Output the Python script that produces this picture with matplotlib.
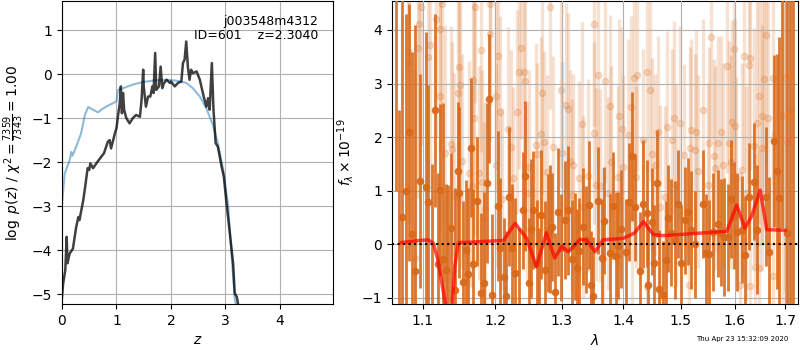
import numpy as np
import matplotlib
matplotlib.use('Agg')
import matplotlib.pyplot as plt
from matplotlib.ticker import NullLocator

# ---- p(z) panel ----
z_fit = [0.0, 0.05, 0.14, 0.17, 0.19, 0.26, 0.35, 0.42, 0.48, 0.57, 0.66, 0.72, 0.81, 0.94, 1.0,
         1.03, 1.12, 1.3, 1.49, 1.73, 1.92, 2.1, 2.28, 2.4, 2.53, 2.65, 2.77, 2.86, 2.96, 3.05,
         3.11, 3.17, 3.2]
lnp_fit = [-2.95, -2.26, -1.96, -1.77, -1.86, -1.65, -1.35, -0.93, -0.75, -0.81, -0.87, -0.81, -0.74,
           -0.66, -0.62, -0.36, -0.32, -0.24, -0.18, -0.14, -0.13, -0.15, -0.2, -0.32, -0.51, -0.78,
           -1.16, -1.57, -2.18, -3.0, -4.07, -5.1, -5.3]

z_chi = [0.0, 0.02, 0.06, 0.086, 0.1, 0.14, 0.2, 0.26, 0.3, 0.32, 0.39, 0.43, 0.47, 0.5, 0.52, 0.57,
         0.63, 0.72, 0.77, 0.8, 0.84, 0.875, 0.9, 0.94, 0.97, 1.0, 1.03, 1.06, 1.08, 1.1, 1.12, 1.14,
         1.18, 1.24, 1.3, 1.36, 1.43, 1.46, 1.49, 1.5, 1.54, 1.58, 1.62, 1.66, 1.68, 1.71, 1.73, 1.78,
         1.81, 1.84, 1.87, 1.92, 1.98, 2.0, 2.07, 2.13, 2.19, 2.22, 2.25, 2.28, 2.31, 2.34, 2.37, 2.4,
         2.47, 2.53, 2.6, 2.65, 2.68, 2.71, 2.75, 2.78, 2.82, 2.86, 2.93, 2.97, 3.02, 3.08, 3.14, 3.17,
         3.21, 3.23]
lnp_chi = [-5.07, -4.77, -4.46, -3.7, -4.3, -4.08, -3.97, -3.48, -3.25, -3.32, -2.87, -2.52, -2.14,
           -2.18, -2.03, -2.14, -2.03, -1.88, -1.8, -1.69, -1.54, -1.5, -1.69, -1.5, -1.35, -1.23, -0.93,
           -0.66, -0.28, -0.89, -0.43, -0.81, -1.0, -1.12, -1.0, -0.93, -0.97, -0.59, 0.1, -0.28, -0.74,
           -0.51, -0.51, -0.28, -0.43, 0.48, -0.36, -0.28, 0.17, -0.32, -0.21, -0.13, -0.2, -0.17, -0.28,
           -0.2, -0.17, 0.25, 0.33, 0.74, 0.17, -0.13, 0.1, 0.02, 0.06, -0.13, -0.51, -0.74, -0.55, -0.81,
           0.25, -0.81, -1.57, -1.65, -2.11, -2.33, -2.94, -3.62, -4.3, -4.98, -5.07, -5.22]

# ---- spectrum panel ----
wave_main = [1.0649, 1.0694, 1.0734, 1.0775, 1.0820, 1.0856, 1.0896, 1.0960, 1.1036, 1.1074, 1.1116,
             1.1158, 1.1200, 1.1232, 1.1270, 1.1307, 1.1340, 1.1382, 1.1433, 1.1469, 1.1493, 1.1539,
             1.1587, 1.1619, 1.1661, 1.1689, 1.1735, 1.1791, 1.1846, 1.1888, 1.1916, 1.1958, 1.2040,
             1.2074, 1.2125, 1.2163, 1.2203, 1.2243, 1.2282, 1.2352, 1.2401, 1.2441, 1.2490, 1.2534,
             1.2564, 1.2614, 1.2649, 1.2682, 1.2733, 1.2782, 1.2822, 1.2846, 1.2890, 1.2941, 1.2990,
             1.3043, 1.3103, 1.3157, 1.3207, 1.3239, 1.3272, 1.3333, 1.3387, 1.3426, 1.3469, 1.3497,
             1.3585, 1.3649, 1.3682, 1.3780, 1.3825, 1.3869, 1.3912, 1.3961, 1.4045, 1.4092, 1.4150,
             1.4202, 1.4279, 1.4337, 1.4394, 1.4424, 1.4489, 1.4529, 1.4569, 1.4616, 1.4674, 1.4726,
             1.4768, 1.4831, 1.4890, 1.4953, 1.5005, 1.5067, 1.5122, 1.5187, 1.5255, 1.5405, 1.5460,
             1.5522, 1.5582, 1.5685, 1.5745, 1.5805, 1.5867, 1.5933, 1.5995, 1.6054, 1.6140, 1.6206,
             1.6274, 1.6380, 1.6446, 1.6606, 1.6666, 1.6766, 1.6834, 1.6886, 1.6940, 1.7048, 1.7104,
             1.7166]
flux_main = [4.8, -1.5, 0.5, 1.0, 2.09, 0.19, -0.5, 1.18, 1.07, 0.78, -1.3,
             2.5, -0.37, 1.01, -0.27, -0.48, -1.4, 0.3, -0.85, 1.36, 0.96, -0.70,
             -0.11, -0.56, 1.8, -0.37, 0.80, -0.92, -0.72, 1.14, 2.72, -0.94, 0.71,
             -0.07, -0.62, -0.96, 0.89, -0.07, -0.54, -1.3, 0.63, 1.28, -0.72, 0.29,
             0.64, -0.37, -1.2, 0.55, -0.49, 0.21, 0.28, 0.32, -0.89, 0.60, -0.07,
             0.45, 0.63, -0.27, -0.04, -0.44, -0.13, 0.33, 0.08, 0.73, -0.76, -0.96,
             0.81, -0.26, 0.44, -0.17, 0.72, -0.22, -0.03, 0.28, -0.15, 0.78, 1.64,
             0.69, -0.50, 0.75, 0.58, -0.76, 0.42, -0.36, 1.14, -0.84, -0.94, -0.29,
             0.48, 0.21, 0.08, 0.75, -0.36, 0.45, 0.61, 0.27, 0.00, 0.75, -0.17,
             -0.18, 0.23, 0.38, 0.21, 0.13, 0.13, 0.84, 0.53, 0.22, 0.27, -0.20,
             0.89, 1.17, 0.27, 0.89, -0.15, 1.93, 1.36, 0.87, 4.8, 0.21, -1.5,
             -1.6]
err_main = [3.8, 4.0, 4.2, 3.3, 2.4, 3.4, 4.6, 2.0, 2.9, 2.2, 2.8,
            1.8, 1.7, 1.6, 2.9, 1.6, 2.5, 1.4, 1.9, 1.3, 1.6, 1.5,
            1.3, 1.6, 1.3, 1.4, 1.2, 1.5, 1.7, 1.5, 1.2, 1.5, 1.4,
            1.3, 1.1, 1.2, 1.3, 1.2, 1.4, 1.6, 1.1, 1.4, 1.2, 1.3,
            1.1, 1.2, 1.5, 1.2, 1.3, 1.1, 1.2, 1.0, 1.1, 1.2, 1.0,
            1.1, 1.2, 1.1, 1.0, 1.1, 1.0, 1.1, 1.0, 1.2, 1.0, 1.1,
            1.0, 1.1, 1.0, 1.1, 1.0, 1.2, 1.0, 1.1, 1.0, 1.1, 1.2,
            1.0, 1.1, 1.2, 1.0, 1.1, 1.0, 1.1, 1.0, 1.1, 1.0, 1.1,
            1.0, 1.0, 1.1, 1.0, 1.1, 1.0, 1.0, 1.1, 1.0, 1.0, 1.1,
            1.0, 1.1, 1.0, 1.0, 1.1, 1.0, 1.1, 1.0, 1.1, 1.0, 1.1,
            1.0, 1.1, 1.2, 1.3, 1.4, 1.6, 2.2, 3.0, 4.5, 4.5, 6.5,
            6.5]

wave_faint = [1.0802, 1.0819, 1.0900, 1.0937, 1.0946, 1.0981, 1.1074, 1.1092, 1.1176, 1.1223, 1.1232,
              1.1260, 1.1302, 1.1385, 1.1399, 1.1423, 1.1469, 1.1489, 1.1496, 1.1525, 1.1633, 1.1665,
              1.1679, 1.1698, 1.1716, 1.1772, 1.1791, 1.1811, 1.1838, 1.1852, 1.1922, 1.1930, 1.2015,
              1.2018, 1.2045, 1.2065, 1.2104, 1.2184, 1.2223, 1.2263, 1.2322, 1.2352, 1.2371, 1.2421,
              1.2436, 1.2460, 1.2499, 1.2599, 1.2619, 1.2682, 1.2697, 1.2722, 1.2766, 1.2816, 1.2856,
              1.2993, 1.3005, 1.3059, 1.3092, 1.3131, 1.3157, 1.3169, 1.3279, 1.3321, 1.3333, 1.3408,
              1.3508, 1.3518, 1.3551, 1.3574, 1.3607, 1.3661, 1.3693, 1.3738, 1.3780, 1.3797, 1.3912,
              1.3923, 1.3980, 1.3989, 1.4075, 1.4127, 1.4150, 1.4175, 1.4220, 1.4232, 1.4337, 1.4394,
              1.4407, 1.4454, 1.4482, 1.4546, 1.4594, 1.4629, 1.4716, 1.4756, 1.4848, 1.4884, 1.4908,
              1.4988, 1.5049, 1.5145, 1.5158, 1.5187, 1.5249, 1.5267, 1.5304, 1.5400, 1.5491, 1.5509,
              1.5551, 1.5605, 1.5631, 1.5678, 1.5740, 1.5787, 1.5860, 1.5885, 1.5933, 1.5945, 1.5982,
              1.6006, 1.6034, 1.6100, 1.6140, 1.6180, 1.6220, 1.6274, 1.6300, 1.6306, 1.6380, 1.6406,
              1.6434, 1.6474, 1.6486, 1.6526, 1.6540, 1.6566, 1.6620, 1.6646, 1.6754, 1.6760, 1.6950,
              1.7000, 1.7050, 1.7120]
flux_faint = [3.41, 3.59, -0.25, 3.66, 4.12, 4.43, 3.50, 3.71, 4.21, 2.77, 4.02,
              4.49, 1.70, 1.87, 1.78, 0.90, 2.82, 3.31, 2.97, 1.55, 1.32, 1.08,
              3.07, 2.36, 4.43, 1.33, 3.63, 1.16, 0.49, 0.65, 4.49, 3.93, 2.77,
              1.47, 3.52, 2.47, 0.84, 2.15, 1.82, 1.23, 2.47, 3.21, 3.66, 3.21,
              3.04, 0.95, 1.45, 1.85, 1.68, 2.06, 2.83, 1.91, 1.35, 4.43, 1.82,
              2.87, 1.70, 2.60, 2.52, 1.56, 0.92, 1.47, 1.24, 2.25, 0.70, 1.28,
              2.07, 4.11, 1.11, 3.15, 1.09, -0.28, 3.04, 0.95, 2.58, 1.53, 1.25,
              2.40, 2.15, 1.45, 2.03, 2.56, 0.52, 3.11, 1.26, 3.16, 1.94, 3.22,
              -0.80, 2.88, 1.68, 1.47, 2.09, 0.70, 0.88, 2.19, 1.95, 2.36, 1.10,
              2.27, 1.67, -0.76, 1.79, 2.14, 1.76, 2.10, 1.36, 2.51, 1.11, 1.89,
              3.87, 1.65, 1.42, 1.89, 2.09, 1.48, 3.33, 1.89, 1.54, 2.29, 3.64,
              2.20, 1.23, -0.76, 1.39, 3.52, 0.95, 3.35, 3.48, -0.79, 1.84, -0.42,
              2.27, -0.45, 2.77, 1.80, 2.39, 3.08, 3.91, 2.36, 3.10, -0.59, 2.4,
              3.1, 1.9, 2.5]
err_faint = [3.0, 3.2, 3.5, 2.8, 3.0, 2.6, 2.4, 2.7, 2.2, 2.5, 2.3,
             2.1, 2.4, 2.2, 2.0, 2.3, 2.1, 1.9, 2.2, 2.0, 2.1, 1.9,
             2.0, 2.2, 1.8, 2.0, 1.9, 2.1, 1.8, 2.0, 1.9, 2.0, 1.8,
             1.9, 2.0, 1.8, 1.7, 1.9, 1.8, 1.7, 1.9, 1.8, 1.7, 1.9,
             1.8, 1.7, 1.8, 1.9, 1.7, 1.8, 1.9, 1.7, 1.8, 1.9, 1.7,
             1.8, 1.7, 1.9, 1.8, 1.7, 1.8, 1.7, 1.8, 1.9, 1.7, 1.8,
             1.7, 1.9, 1.8, 1.7, 1.8, 1.7, 1.9, 1.8, 1.7, 1.8, 1.7,
             1.8, 1.9, 1.7, 1.8, 1.7, 1.8, 1.9, 1.7, 1.8, 1.7, 1.9,
             1.8, 1.7, 1.8, 1.7, 1.8, 1.9, 1.7, 1.8, 1.7, 1.8, 1.9,
             1.8, 1.7, 1.8, 1.9, 1.7, 1.8, 1.9, 1.8, 1.7, 1.9, 1.8,
             1.9, 1.8, 1.9, 2.0, 1.8, 1.9, 2.0, 1.9, 2.0, 1.9, 2.1,
             2.0, 1.9, 2.1, 2.0, 2.1, 2.0, 2.2, 2.1, 2.0, 2.2, 2.1,
             2.3, 2.2, 2.4, 2.3, 2.4, 2.5, 2.4, 2.6, 2.8, 2.7, 3.5,
             4.0, 4.5, 5.0]

wave_model = [1.072, 1.096, 1.107, 1.114, 1.120, 1.127, 1.132, 1.139, 1.143, 1.148, 1.169, 1.212,
              1.229, 1.246, 1.261, 1.276, 1.289, 1.300, 1.310, 1.329, 1.339, 1.353, 1.366, 1.400,
              1.419, 1.434, 1.451, 1.469, 1.585, 1.604, 1.620, 1.633, 1.650, 1.663, 1.700]
flux_model = [0.03, 0.07, 0.08, 0.02, -0.29, -0.85, -1.25, -1.25, -0.42, 0.03, 0.04, 0.07,
              0.39, 0.11, -0.42, 0.21, -0.26, -0.04, -0.14, 0.09, 0.08, -0.14, 0.08, 0.11,
              0.21, 0.42, 0.18, 0.16, 0.24, 0.73, 0.30, 0.52, 1.01, 0.27, 0.26]

spec_color = (0.85, 0.41, 0.1)

fig = plt.figure(figsize=(8, 3.5), dpi=100)

ax = fig.add_axes([0.0775, 0.131, 0.3385, 0.866])
ax.plot(z_fit, lnp_fit, color='tab:blue', alpha=0.5, lw=1.5)
ax.plot(z_chi, lnp_chi, color='k', alpha=0.75, lw=1.8)
ax.set_xlim(0, 4.97)
ax.set_ylim(-5.23, 1.66)
ax.set_xticks([0, 1, 2, 3, 4])
ax.set_yticks([-5, -4, -3, -2, -1, 0, 1])
ax.grid()
ax.set_xlabel('$z$')
ax.set_ylabel(r'$\log\ p(z)$ / $\chi^2=\frac{7359}{7343}=1.00$')
ax.text(0.945, 0.955, 'j003548m4312\nID=601    z=2.3040', ha='right', va='top',
        transform=ax.transAxes, fontsize=9, linespacing=1.1)

ax = fig.add_axes([0.49, 0.131, 0.5075, 0.866])
ax.errorbar(wave_faint, flux_faint, yerr=err_faint, fmt='o', color=spec_color, alpha=0.2,
            markersize=4.5, elinewidth=2.4, capsize=0, zorder=2)
ax.errorbar(wave_main, flux_main, yerr=err_main, fmt='o', color=spec_color, alpha=0.9,
            markersize=4.5, elinewidth=2.0, capsize=0, zorder=3)
ax.plot(wave_model, flux_model, color='r', alpha=0.7, lw=2.5, zorder=4)
ax.axhline(0, color='k', linestyle=':', lw=1.5, zorder=5)
ax.set_xscale('log')
ax.set_xlim(1.06, 1.7267)
ax.set_ylim(-1.12, 4.54)
ax.set_xticks([1.1, 1.2, 1.3, 1.4, 1.5, 1.6, 1.7])
ax.set_xticklabels(['1.1', '1.2', '1.3', '1.4', '1.5', '1.6', '1.7'])
ax.xaxis.set_minor_locator(NullLocator())
ax.set_yticks([-1, 0, 1, 2, 3, 4])
ax.grid()
ax.set_axisbelow(False)
ax.set_xlabel(r'$\lambda$')
ax.set_ylabel(r'$f_\lambda\times10^{-19}$')

fig.text(0.985, 0.031, 'Thu Apr 23 15:32:09 2020', ha='right', va='center', fontsize=5)

fig.savefig('out.png', dpi=100)
